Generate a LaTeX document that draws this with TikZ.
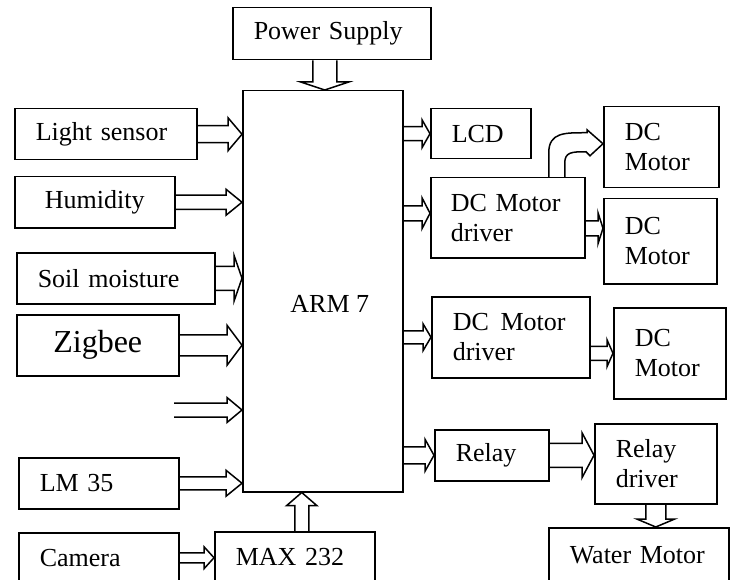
\documentclass[tikz,border=0pt]{standalone}
\usepackage{fontspec}
\setmainfont{Liberation Serif}
\usetikzlibrary{calc}

\tikzset{
  blk/.style={draw, line width=1.5pt, anchor=north west, inner ysep=0pt, inner xsep=21pt, align=left},
  hollow/.style={draw, line width=1.5pt, line join=miter}
}
\newcommand{\blockarrow}[5]{%
  \path ($(#2)!#5!(#1)$) coordinate (neck);
  \draw[hollow] ($(#1)!#3!90:(#2)$) -- ($(neck)!#3!90:(#2)$) -- ($(neck)!#4!90:(#2)$) -- (#2)
    -- ($(neck)!#4!-90:(#2)$) -- ($(neck)!#3!-90:(#2)$) -- ($(#1)!#3!-90:(#2)$);
}

\begin{document}
\begin{tikzpicture}[x=1pt,y=-1pt,font=\fontsize{26}{30}\selectfont]
\useasboundingbox (0,0) rectangle (733,580);
\clip (0,0) rectangle (733,580);

\node[blk, minimum width=198pt, minimum height=52pt, text width=156pt] (power) at (232,7) {Power Supply};
\node[blk, minimum width=160pt, minimum height=401pt, label={[xshift=7pt,yshift=-12.5pt]center:ARM 7}] (arm) at (242,90) {};

\node[blk, minimum width=182pt, minimum height=51pt, text width=140pt] (light) at (14,108) {Light sensor};
\node[blk, minimum width=160pt, minimum height=51pt, text width=118pt, align=center] (humid) at (14,176) {Humidity};
\node[blk, minimum width=198pt, minimum height=51pt, text width=156pt] (soil) at (16,252) {Soil moisture};
\node[blk, minimum width=162pt, minimum height=61pt, text width=120pt, align=center, font=\fontsize{32}{36}\selectfont] (zig) at (16,314) {Zigbee};
\node[blk, minimum width=160pt, minimum height=51pt, text width=118pt] (lm) at (18,457) {LM 35};
\node[blk, minimum width=160pt, minimum height=50pt, text width=118pt] (cam) at (18,532) {Camera};
\node[blk, minimum width=160pt, minimum height=50pt, text width=118pt] (max) at (214,531) {MAX 232};

\node[blk, minimum width=100pt, minimum height=50pt, text width=58pt] (lcd) at (430,108) {LCD};
\node[blk, minimum width=154pt, minimum height=80pt, inner xsep=20pt, text width=114pt] (drv1) at (430,177) {DC Motor\\driver};
\node[blk, minimum width=115pt, minimum height=81pt, text width=73pt] (dcm1) at (603,106) {DC\\Motor};
\node[blk, minimum width=113pt, minimum height=85pt, text width=71pt] (dcm2) at (603,198) {DC\\Motor};
\node[blk, minimum width=158pt, minimum height=81pt, text width=116pt] (drv2) at (431,296) {\mbox{DC\hspace{0.45em}Motor}\\driver};
\node[blk, minimum width=112pt, minimum height=91pt, text width=70pt] (dcm3) at (613,307) {DC\\Motor};
\node[blk, minimum width=114pt, minimum height=51pt, text width=72pt] (relay) at (434,429) {Relay};
\node[blk, minimum width=122pt, minimum height=80pt, text width=80pt] (rdrv) at (594,423) {Relay\\driver};
\node[blk, minimum width=180pt, minimum height=55pt, text width=138pt] (water) at (548,527) {Water Motor};

\coordinate (pwA) at ([xshift=-7pt]power.south);
\coordinate (pwB) at (pwA |- arm.north);
\blockarrow{pwA}{pwB}{12pt}{24pt}{8pt}
\blockarrow{light.east}{arm.west |- light.east}{8.5pt}{16.5pt}{14pt}
\blockarrow{humid.east}{arm.west |- humid.east}{7pt}{13pt}{16pt}
\blockarrow{soil.east}{arm.west |- soil.east}{12pt}{23pt}{8pt}
\blockarrow{zig.east}{arm.west |- zig.east}{10.5pt}{20pt}{15pt}
\coordinate (spare) at (174,410);
\blockarrow{spare}{arm.west |- spare}{7pt}{12.5pt}{15pt}
\blockarrow{lm.east}{arm.west |- lm.east}{6.5pt}{13pt}{16pt}
\blockarrow{cam.east}{max.west |- cam.east}{5pt}{11pt}{10pt}
\coordinate (mxA) at ([xshift=7pt]max.north);
\blockarrow{mxA}{mxA |- arm.south}{7pt}{15pt}{13pt}

\blockarrow{arm.east |- lcd.west}{lcd.west}{7pt}{14pt}{8pt}
\coordinate (d1A) at ([yshift=4.5pt]drv1.west);
\blockarrow{arm.east |- d1A}{d1A}{7.5pt}{15.5pt}{8pt}
\coordinate (d1B) at ([yshift=-10.5pt]drv1.east);
\blockarrow{d1B}{dcm2.west |- d1B}{7.5pt}{15.5pt}{5pt}
\blockarrow{arm.east |- drv2.west}{drv2.west}{6.5pt}{13.5pt}{8pt}
\blockarrow{drv2.east |- dcm3.west}{dcm3.west}{7pt}{13.5pt}{6pt}
\blockarrow{arm.east |- relay.west}{relay.west}{8.5pt}{16pt}{9pt}
\blockarrow{relay.east}{rdrv.west |- relay.east}{12pt}{22.5pt}{12pt}
\blockarrow{rdrv.south}{rdrv.south |- water.north}{10pt}{19pt}{8pt}

% bent arrow up to the first motor
\coordinate (tipA) at ([yshift=3.5pt]dcm1.west);
\draw[hollow] ([xshift=41pt]drv1.north) -- ++(0,-24) .. controls +(0,-21) and +(-22,0) .. ($(tipA)+(-16,-11)$)
  -- ++(0,-3) -- (tipA) -- ++(-13,12) -- ++(-4,-4) .. controls +(-14,0) and +(0,-11) .. ([xshift=57pt,yshift=14pt]drv1.north)
  -- ([xshift=57pt]drv1.north);

\end{tikzpicture}
\end{document}
